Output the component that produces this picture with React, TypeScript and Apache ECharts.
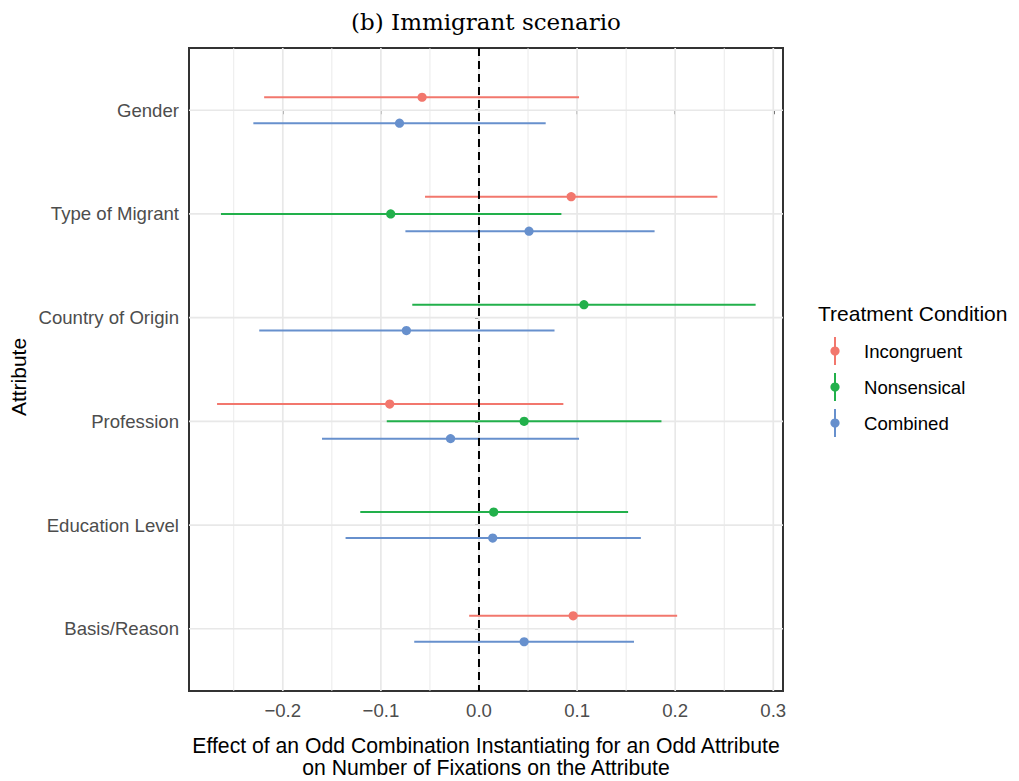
import React, { useEffect, useRef } from "react";
import * as echarts from "echarts";

const categories = ["Gender", "Type of Migrant", "Country of Origin", "Profession", "Education Level", "Basis/Reason"];
const conditions = ["Incongruent", "Nonsensical", "Combined"];
const colors = ["#F2776D", "#22B04B", "#6790CD"];

const incongruentMean = [-0.058, 0.094, null, -0.091, null, 0.096];
const incongruentLow = [-0.219, -0.055, null, -0.267, null, -0.010];
const incongruentHigh = [0.102, 0.243, null, 0.086, null, 0.202];

const nonsensicalMean = [null, -0.090, 0.107, 0.046, 0.015, null];
const nonsensicalLow = [null, -0.263, -0.068, -0.094, -0.121, null];
const nonsensicalHigh = [null, 0.084, 0.282, 0.186, 0.152, null];

const combinedMean = [-0.081, 0.051, -0.074, -0.029, 0.014, 0.046];
const combinedLow = [-0.230, -0.075, -0.224, -0.160, -0.136, -0.066];
const combinedHigh = [0.068, 0.179, 0.077, 0.102, 0.165, 0.158];

const xTicks = [-0.2, -0.1, 0, 0.1, 0.2, 0.3];
const xMinorTicks = [-0.25, -0.15, -0.05, 0.05, 0.15, 0.25];
const yTicks = [0, 1, 2, 3, 4, 5];
const xMin = -0.2956;
const xMax = 0.3099;

const means = [incongruentMean, nonsensicalMean, combinedMean];
const lows = [incongruentLow, nonsensicalLow, combinedLow];
const highs = [incongruentHigh, nonsensicalHigh, combinedHigh];

const DODGE = 0.5;

function buildSeriesData(g: number) {
  const out: number[][] = [];
  categories.forEach((_, c) => {
    if (means[g][c] === null) return;
    const present = [0, 1, 2].filter((k) => means[k][c] !== null);
    const n = present.length;
    const r = present.indexOf(g);
    const offset = -DODGE / 2 + ((r + 0.5) * DODGE) / n;
    out.push([lows[g][c] as number, highs[g][c] as number, means[g][c] as number, c + offset]);
  });
  return out;
}

const fmt = (v: number) => {
  const s = Math.abs(v) < 1e-9 ? "0.0" : v.toFixed(1);
  return s.replace("-", "\u2212");
};

// gridline items: [value, orientation(0 = vertical, 1 = horizontal), major(1) / minor(0)]
const gridItems: number[][] = [
  ...xMinorTicks.map((v) => [v, 0, 0]),
  ...xTicks.map((v) => [v, 0, 1]),
  ...yTicks.map((v) => [v, 1, 1]),
];

export default function App() {
  const ref = useRef<HTMLDivElement>(null);
  useEffect(() => {
    document.body.style.margin = "0";
    const chart = echarts.init(ref.current!, null, { renderer: "svg" });
    const sans = "Liberation Sans";

    const errorSeries = conditions.map((name, g) => ({
      type: "custom",
      name,
      z: 5,
      data: buildSeriesData(g),
      encode: { x: [0, 1, 2], y: 3 },
      renderItem: (params: any, api: any) => {
        const lo = api.value(0);
        const hi = api.value(1);
        const m = api.value(2);
        const y = api.value(3);
        const p1 = api.coord([lo, y]);
        const p2 = api.coord([hi, y]);
        const pm = api.coord([m, y]);
        return {
          type: "group",
          children: [
            {
              type: "line",
              shape: { x1: p1[0], y1: p1[1], x2: p2[0], y2: p2[1] },
              style: { stroke: colors[g], lineWidth: 2 },
            },
            {
              type: "circle",
              shape: { cx: pm[0], cy: pm[1], r: 4.6 },
              style: { fill: colors[g] },
            },
          ],
        };
      },
    }));

    const gridSeries = {
      type: "custom",
      name: "gridlines",
      silent: true,
      z: 1,
      data: gridItems,
      encode: { x: 0 },
      clip: true,
      renderItem: (params: any, api: any) => {
        const v = api.value(0);
        const orient = api.value(1);
        const major = api.value(2);
        const cs = params.coordSys;
        const w = major ? 1.7 : 0.9;
        if (orient === 0) {
          const x = api.coord([v, 0])[0];
          return {
            type: "line",
            shape: { x1: x, y1: cs.y, x2: x, y2: cs.y + cs.height },
            style: { stroke: "#E8E8E8", lineWidth: w },
          };
        }
        const y = api.coord([xMin, v])[1];
        return {
          type: "line",
          shape: { x1: cs.x, y1: y, x2: cs.x + cs.width, y2: y },
          style: { stroke: "#E8E8E8", lineWidth: w },
        };
      },
    };

    const zeroSeries = {
      type: "custom",
      name: "zero",
      silent: true,
      z: 10,
      data: [[0]],
      encode: { x: 0 },
      renderItem: (params: any, api: any) => {
        const cs = params.coordSys;
        const x = api.coord([api.value(0), 0])[0];
        return {
          type: "line",
          shape: { x1: x, y1: cs.y, x2: x, y2: cs.y + cs.height },
          style: { stroke: "#000", lineWidth: 2, lineDash: [8, 5] },
        };
      },
    };

    const legendGraphics: any[] = [
      {
        type: "text",
        x: 818,
        y: 313,
        style: {
          text: "Treatment Condition",
          fontFamily: sans,
          fontSize: 21,
          fill: "#000",
          textAlign: "left",
          textVerticalAlign: "middle",
          align: "left",
          verticalAlign: "middle",
        },
      },
    ];
    conditions.forEach((name, i) => {
      const cy = 351 + 36 * i;
      legendGraphics.push(
        {
          type: "line",
          shape: { x1: 835, y1: cy - 14, x2: 835, y2: cy + 14 },
          style: { stroke: colors[i], lineWidth: 2 },
        },
        {
          type: "circle",
          shape: { cx: 835, cy, r: 4.6 },
          style: { fill: colors[i] },
        },
        {
          type: "text",
          x: 864,
          y: cy,
          style: {
            text: name,
            fontFamily: sans,
            fontSize: 18.6,
            fill: "#000",
            textAlign: "left",
            textVerticalAlign: "middle",
            align: "left",
            verticalAlign: "middle",
          },
        }
      );
    });

    const option: any = {
      animation: false,
      backgroundColor: "#fff",
      grid: {
        left: 189,
        top: 48,
        right: 236,
        bottom: 90,
        show: true,
        borderColor: "#333",
        borderWidth: 2,
        backgroundColor: "transparent",
        containLabel: false,
        outerBoundsMode: "none",
      },
      xAxis: {
        type: "value",
        min: xMin,
        max: xMax,
        axisLine: { show: false },
        splitLine: { show: false },
        axisTick: { show: true, customValues: xTicks, length: 4, lineStyle: { color: "#333", width: 1.5 } },
        axisLabel: {
          customValues: xTicks,
          formatter: (v: number) => fmt(v),
          color: "#4D4D4D",
          fontFamily: sans,
          fontSize: 18.6,
          margin: 10,
        },
        name: "Effect of an Odd Combination Instantiating for an Odd Attribute\non Number of Fixations on the Attribute",
        nameLocation: "middle",
        nameGap: 43,
        nameTextStyle: {
          color: "#000",
          fontFamily: sans,
          fontSize: 21.2,
          lineHeight: 22,
          verticalAlign: "top",
        },
      },
      yAxis: {
        type: "value",
        min: -0.6,
        max: 5.6,
        inverse: true,
        axisLine: { show: false },
        splitLine: { show: false },
        axisTick: { show: true, customValues: yTicks, length: 4, lineStyle: { color: "#333", width: 1.5 } },
        axisLabel: {
          customValues: yTicks,
          formatter: (v: number) => categories[Math.round(v)] ?? "",
          color: "#4D4D4D",
          fontFamily: sans,
          fontSize: 18.6,
          margin: 10,
        },
      },
      graphic: [
        {
          type: "text",
          x: 486,
          y: 22,
          style: {
            text: "(b) Immigrant scenario",
            fontFamily: "DejaVu Serif",
            fontSize: 23,
            fill: "#000",
            textAlign: "center",
            textVerticalAlign: "middle",
            align: "center",
            verticalAlign: "middle",
          },
        },
        {
          type: "text",
          x: 18,
          y: 377,
          rotation: Math.PI / 2,
          style: {
            text: "Attribute",
            fontFamily: sans,
            fontSize: 21,
            fill: "#000",
            textAlign: "center",
            textVerticalAlign: "middle",
            align: "center",
            verticalAlign: "middle",
          },
        },
        ...legendGraphics,
      ],
      series: [gridSeries, ...errorSeries, zeroSeries],
    };
    chart.setOption(option);
    return () => chart.dispose();
  }, []);
  return <div ref={ref} style={{ width: 1019, height: 781 }} />;
}
